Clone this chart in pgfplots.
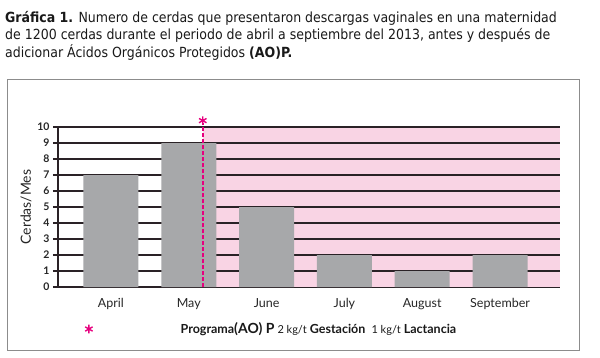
\documentclass[border=0pt]{standalone}
\usepackage{pgfplots}
\pgfplotsset{compat=1.18}
\usepackage{fontspec}
\setmainfont{Lato}
\newfontfamily\titlefont{DejaVu Sans Condensed}
\definecolor{barg}{HTML}{A7A8AA}
\definecolor{pinkbg}{HTML}{F9D4E4}
\definecolor{mag}{HTML}{E6007E}
\definecolor{gridc}{HTML}{2A2226}
\definecolor{txt}{HTML}{262626}
\begin{document}
\begin{tikzpicture}
\useasboundingbox (0pt,0pt) rectangle (600pt,357pt);
\draw[draw=gray!90, line width=0.9pt] (7pt,278pt) rectangle (579pt,7pt);
\node[anchor=base west, inner sep=0, font=\titlefont\fontsize{13.95}{16}\selectfont, text=black!90] at (5pt,334.5pt) {\textbf{Gráfica 1.} Numero de cerdas que presentaron descargas vaginales en una maternidad};
\node[anchor=base west, inner sep=0, font=\titlefont\fontsize{13.95}{16}\selectfont, text=black!90] at (5pt,317pt) {de 1200 cerdas durante el periodo de abril a septiembre del 2013, antes y después de};
\node[anchor=base west, inner sep=0, font=\titlefont\fontsize{13.95}{16}\selectfont, text=black!90] at (5pt,299.5pt) {adicionar Ácidos Orgánicos Protegidos \textbf{(AO)P.}};
\begin{axis}[
  at={(58pt,70pt)}, anchor=south west,
  scale only axis, width=502pt, height=160pt,
  xmin=-0.68, xmax=5.77, ymin=0, ymax=10,
  clip=false,
  axis x line*=bottom, axis y line*=left,
  axis line style={gridc, line width=1.1pt, -},
  xtick={0,1,2,3,4,5},
  xticklabels={April,May,June,July,August,September},
  x tick style={draw=none},
  ytick={0,1,...,10},
  /pgf/number format/assume math mode=true,
  tick align=outside, major tick length=5pt,
  y tick style={gridc, line width=1.1pt},
  yticklabel style={font=\fontsize{10.5}{12}\selectfont\bfseries, text=txt},
  xticklabel style={font=\fontsize{12.5}{14}\selectfont, text=txt, yshift=-3pt},
  ylabel={Cerdas/Mes},
  ylabel style={font=\fontsize{14}{16}\selectfont, text=txt, yshift=-1pt},
  legend style={draw=none, fill=none, at={(rel axis cs:0,0)}, anchor=west, xshift=27pt, yshift=-42pt, font=\fontsize{12.5}{14}\selectfont\bfseries, text=black!90, inner sep=0pt},
  legend image code/.code={\path[mag, line width=1.4pt] plot[mark=asterisk, mark size=4.3pt] coordinates {(0.15cm,0cm)};},
]
\addplot[fill=pinkbg, draw=none, forget plot] coordinates {(1.18,0) (5.77,0) (5.77,10) (1.18,10)};
\pgfplotsinvokeforeach{1,...,10}{
  \addplot[gridc, line width=1.1pt, forget plot] coordinates {(-0.68,#1) (5.77,#1)};
}
\addplot[ybar, bar width=55pt, fill=barg, draw=none, forget plot] coordinates {(0,7) (1,9) (2,5) (3,2) (4,1) (5,2)};
\addplot[mag, line width=1.8pt, dash pattern=on 4pt off 2pt, forget plot] coordinates {(1.18,0) (1.18,10.25)};
\addplot[mag, only marks, mark=asterisk, mark size=4.3pt, line width=1.4pt] coordinates {(1.18,10.4)};
\addlegendentry{\hspace*{86pt}Programa{\fontsize{14}{15}\selectfont(AO) P} {\mdseries\fontsize{11}{12}\selectfont 2 kg/t} Gestación \ {\mdseries\fontsize{11}{12}\selectfont 1 kg/t} Lactancia}
\end{axis}
\end{tikzpicture}
\end{document}
